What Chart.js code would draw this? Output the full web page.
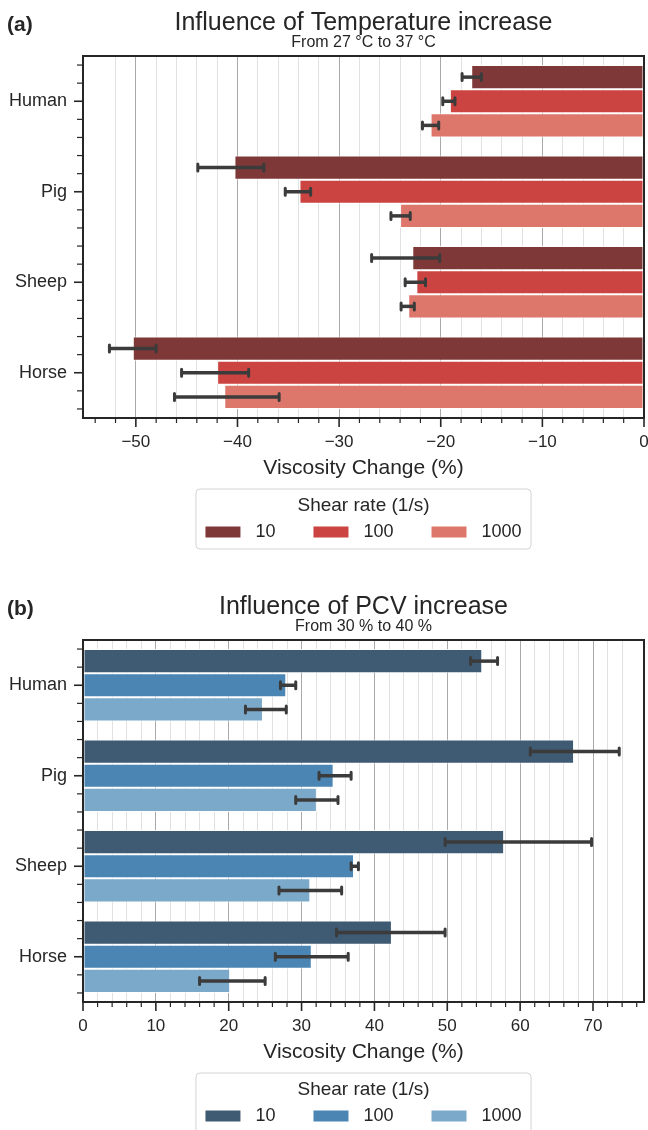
<!DOCTYPE html>
<html>
<head>
<meta charset="utf-8">
<script src="https://cdn.jsdelivr.net/npm/chart.js@4"></script>
<style>
    body { margin: 0; background: #fff; }
    canvas { position: absolute; left: 0; }
</style>
</head>
<body>
<canvas id="chartA" width="648" height="584" style="top:0"></canvas>
<canvas id="chartB" width="648" height="546" style="top:584px"></canvas>
<script>
// Chart data
const species = ['Human', 'Pig', 'Sheep', 'Horse'];
const shearRates = ['10', '100', '1000'];

// (a) temperature increase, 27 -> 37 °C
const tempMean10 = [-17.0, -40.3, -22.8, -50.3];
const tempMean100 = [-19.1, -33.9, -22.4, -42.0];
const tempMean1000 = [-21.0, -24.0, -23.2, -41.3];
const tempLow10 = [-17.9, -43.9, -26.8, -52.6];
const tempHigh10 = [-16.0, -37.4, -20.1, -48.0];
const tempLow100 = [-19.8, -35.3, -23.5, -45.5];
const tempHigh100 = [-18.6, -32.8, -21.5, -38.9];
const tempLow1000 = [-21.8, -24.9, -23.9, -46.2];
const tempHigh1000 = [-20.2, -23.0, -22.6, -35.9];
const tempTicks = [-50, -40, -30, -20, -10, 0];

// (b) PCV increase, 30 -> 40 %
const pcvMean10 = [54.8, 67.4, 57.8, 42.4];
const pcvMean100 = [27.9, 34.4, 37.2, 31.4];
const pcvMean1000 = [24.7, 32.1, 31.2, 20.2];
const pcvLow10 = [53.2, 61.4, 49.7, 34.8];
const pcvHigh10 = [56.9, 73.6, 69.8, 49.7];
const pcvLow100 = [27.1, 32.4, 36.8, 26.4];
const pcvHigh100 = [29.2, 36.8, 37.8, 36.4];
const pcvLow1000 = [22.3, 29.2, 26.9, 16.0];
const pcvHigh1000 = [27.9, 35.0, 35.5, 25.0];
const pcvTicks = [0, 10, 20, 30, 40, 50, 60, 70];

const redShades = ['#7f3838', '#cb4441', '#dd776b'];
const blueShades = ['#3e5b73', '#4a85b3', '#7ba9ca'];

const FONT = '"Liberation Sans", Arial, sans-serif';
const INK = '#262626';

function drawLegend(ctx, cx, top, title, labels, colors) {
    ctx.save();
    ctx.font = '18px ' + FONT;
    var sw = 35, gap = 15, colGap = 38, pad = 9.5;
    var widths = labels.map(function (l) { return ctx.measureText(l).width; });
    var total = labels.length * (sw + gap) + widths.reduce(function (a, b) { return a + b; }, 0) + colGap * (labels.length - 1);
    var boxW = total + 2 * pad, boxH = 60;
    var left = cx - boxW / 2;

    ctx.beginPath();
    ctx.roundRect(left, top, boxW, boxH, 4);
    ctx.fillStyle = 'rgba(255,255,255,0.9)';
    ctx.fill();
    ctx.strokeStyle = '#d4d4d4';
    ctx.lineWidth = 1;
    ctx.stroke();

    ctx.fillStyle = INK;
    ctx.textAlign = 'center';
    ctx.textBaseline = 'middle';
    ctx.font = '19px ' + FONT;
    ctx.fillText(title, cx, top + 17);

    ctx.font = '18px ' + FONT;
    ctx.textAlign = 'left';
    var x = left + pad;
    for (var i = 0; i < labels.length; i++) {
        ctx.fillStyle = colors[i];
        ctx.fillRect(x, top + 37.5, sw, 11);
        ctx.fillStyle = INK;
        ctx.fillText(labels[i], x + sw + gap, top + 43.5);
        x += sw + gap + widths[i] + colGap;
    }
    ctx.restore();
}

// Error bars, ticks, frame, titles and legend
const decorPlugin = {
    id: 'decor',
    afterDatasetsDraw(chart) {
        var ctx = chart.ctx, xs = chart.scales.x;
        ctx.save();
        ctx.strokeStyle = '#3b3b3b';
        chart.data.datasets.forEach(function (ds, i) {
            chart.getDatasetMeta(i).data.forEach(function (bar, j) {
                var x1 = xs.getPixelForValue(ds.errLow[j]);
                var x2 = xs.getPixelForValue(ds.errHigh[j]);
                var y = bar.y;
                ctx.lineWidth = 3.5;
                ctx.lineCap = 'butt';
                ctx.beginPath();
                ctx.moveTo(x1, y);
                ctx.lineTo(x2, y);
                ctx.stroke();
                ctx.lineWidth = 3;
                ctx.lineCap = 'round';
                ctx.beginPath();
                ctx.moveTo(x1, y - 3.5); ctx.lineTo(x1, y + 3.5);
                ctx.moveTo(x2, y - 3.5); ctx.lineTo(x2, y + 3.5);
                ctx.stroke();
            });
        });
        ctx.restore();
    },
    afterDraw(chart, args, opts) {
        var ctx = chart.ctx, area = chart.chartArea;
        var xs = chart.scales.x, ys = chart.scales.y;
        ctx.save();
        ctx.strokeStyle = INK;

        // x ticks: major every 10, minor every 2
        for (var v = Math.ceil(xs.min / 2) * 2; v <= xs.max + 1e-9; v += 2) {
            var major = Math.abs(v % 10) < 1e-9;
            var px = xs.getPixelForValue(v);
            ctx.lineWidth = major ? 1.6 : 1.2;
            ctx.beginPath();
            ctx.moveTo(px, area.bottom);
            ctx.lineTo(px, area.bottom + (major ? 9 : 5));
            ctx.stroke();
        }

        // y ticks: category centre and minor ticks
        var p0 = ys.getPixelForValue(0), unit = ys.getPixelForValue(1) - p0;
        for (var i = 0; i < species.length; i++) {
            [-0.4, -0.2, 0, 0.2, 0.4].forEach(function (d) {
                var py = p0 + (i + d) * unit;
                ctx.lineWidth = d === 0 ? 1.6 : 1.2;
                ctx.beginPath();
                ctx.moveTo(area.left, py);
                ctx.lineTo(area.left - (d === 0 ? 9 : 6), py);
                ctx.stroke();
            });
        }

        // frame
        ctx.lineWidth = 2;
        ctx.strokeRect(area.left, area.top, area.right - area.left, area.bottom - area.top);

        // texts
        var cx = (area.left + area.right) / 2;
        ctx.fillStyle = INK;
        ctx.textBaseline = 'alphabetic';
        ctx.textAlign = 'left';
        ctx.font = 'bold 21px ' + FONT;
        ctx.fillText(opts.panel, 7, 31);
        ctx.textAlign = 'center';
        ctx.font = '25px ' + FONT;
        ctx.fillText(opts.title, cx, 29.5);
        ctx.font = '16px ' + FONT;
        ctx.fillText(opts.subtitle, cx, 47);
        ctx.font = '21px ' + FONT;
        ctx.fillText(opts.xTitle, cx, area.bottom + 56);
        ctx.restore();

        drawLegend(ctx, cx, area.bottom + 71, opts.legendTitle, shearRates, opts.colors);
    }
};

function makeDataset(label, means, lows, highs, color) {
    return {
        label: label,
        data: means,
        errLow: lows,
        errHigh: highs,
        backgroundColor: color,
        borderColor: 'rgba(255,255,255,0.85)',
        borderWidth: 1,
        borderSkipped: false,
        categoryPercentage: 0.8,
        barPercentage: 1.0
    };
}

function makeChart(id, datasets, xMin, xMax, tickList, texts, colors, canvasH) {
    var ctx = document.getElementById(id).getContext('2d');
    return new Chart(ctx, {
        type: 'bar',
        data: { labels: species, datasets: datasets },
        plugins: [decorPlugin],
        options: {
            indexAxis: 'y',
            responsive: false,
            animation: false,
            layout: { padding: { top: 56, left: 0, right: 4, bottom: canvasH - 418 - 40 } },
            plugins: {
                legend: { display: false },
                tooltip: { enabled: false },
                decor: Object.assign({ colors: colors }, texts)
            },
            scales: {
                x: {
                    type: 'linear',
                    min: xMin,
                    max: xMax,
                    afterFit: function (scale) {
                        scale.height = 40;
                        scale.paddingLeft = 0;
                        scale.paddingRight = 0;
                    },
                    grid: {
                        drawTicks: false,
                        color: function (c) {
                            var v = c.tick.value;
                            return Math.abs(v % 10) < 1e-6 ? '#a9a9a9' : '#e1e1e1';
                        }
                    },
                    border: { display: false },
                    ticks: {
                        stepSize: 2,
                        autoSkip: false,
                        maxRotation: 0,
                        padding: 14,
                        color: INK,
                        font: { family: FONT, size: 17 },
                        callback: function (value) {
                            var r = Math.round(value);
                            if (Math.abs(value - r) > 1e-6 || tickList.indexOf(r) < 0) return '';
                            return r < 0 ? '\u2212' + Math.abs(r) : String(r);
                        }
                    }
                },
                y: {
                    afterFit: function (scale) {
                        scale.width = 83;
                        scale.paddingTop = 0;
                        scale.paddingBottom = 0;
                    },
                    grid: { display: false, drawTicks: false, offset: false },
                    border: { display: false },
                    ticks: {
                        padding: 16,
                        color: INK,
                        font: { family: FONT, size: 18 }
                    }
                }
            }
        }
    });
}

makeChart('chartA', [
    makeDataset(shearRates[0], tempMean10, tempLow10, tempHigh10, redShades[0]),
    makeDataset(shearRates[1], tempMean100, tempLow100, tempHigh100, redShades[1]),
    makeDataset(shearRates[2], tempMean1000, tempLow1000, tempHigh1000, redShades[2])
], -55.2, 0, tempTicks, {
    panel: '(a)',
    title: 'Influence of Temperature increase',
    subtitle: 'From 27 \u00b0C to 37 \u00b0C',
    xTitle: 'Viscosity Change (%)',
    legendTitle: 'Shear rate (1/s)'
}, redShades, 584);

makeChart('chartB', [
    makeDataset(shearRates[0], pcvMean10, pcvLow10, pcvHigh10, blueShades[0]),
    makeDataset(shearRates[1], pcvMean100, pcvLow100, pcvHigh100, blueShades[1]),
    makeDataset(shearRates[2], pcvMean1000, pcvLow1000, pcvHigh1000, blueShades[2])
], 0, 77, pcvTicks, {
    panel: '(b)',
    title: 'Influence of PCV increase',
    subtitle: 'From 30 % to 40 %',
    xTitle: 'Viscosity Change (%)',
    legendTitle: 'Shear rate (1/s)'
}, blueShades, 546);
</script>
</body>
</html>
